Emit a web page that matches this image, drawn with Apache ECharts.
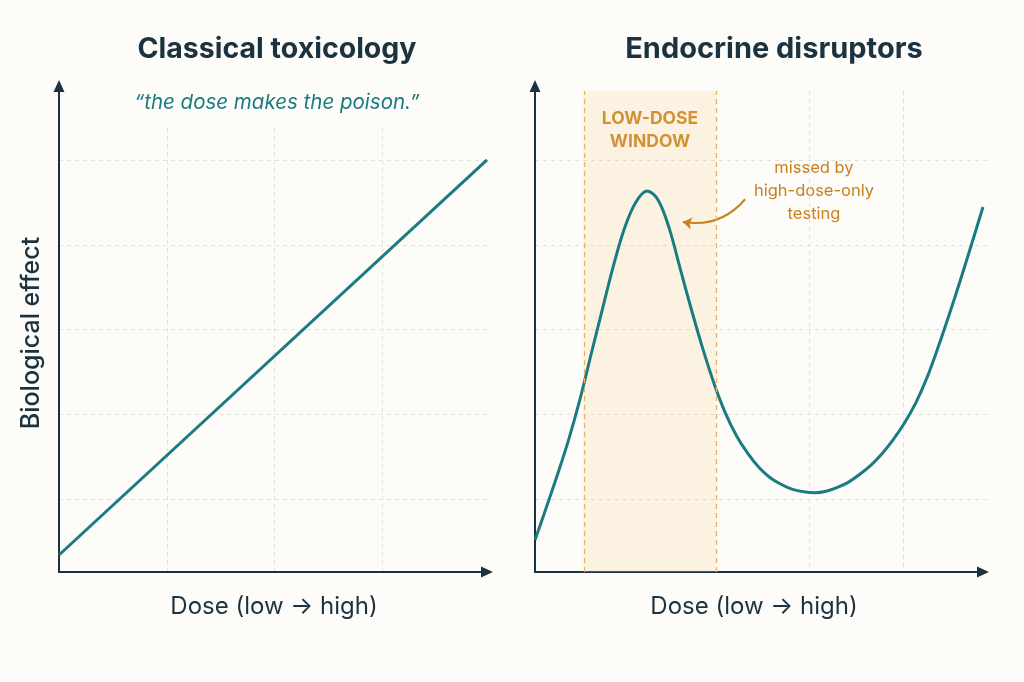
<!DOCTYPE html>
<html>
<head>
<meta charset="utf-8">
<script src="https://cdn.jsdelivr.net/npm/echarts@6/dist/echarts.min.js"></script>
<style>
  html, body { margin: 0; padding: 0; background: #fdfcf9; }
  #chart { width: 1024px; height: 682px; }
</style>
</head>
<body>
<div id="chart"></div>
<script>
// panel titles and labels
var panelTitles = ['Classical toxicology', 'Endocrine disruptors']
var quote = '\u201cthe dose makes the poison.\u201d'
var yName = 'Biological effect'
var xName = 'Dose (low \u2192 high)'
var windowLabel = 'LOW-DOSE\nWINDOW'
var noteLabel = 'missed by\nhigh-dose-only\ntesting'

// left: linear dose-response (dose 0..10, effect 0..10)
var linearDose = [0, 10]
var linearEffect = [0.35, 8.48]

// right: non-monotonic dose-response
var ndDose = [0, 0.25, 0.5, 0.75, 1, 1.25, 1.5, 1.75, 2, 2.25, 2.5, 2.75, 3, 3.25, 3.5, 3.75, 4,
  4.25, 4.5, 4.75, 5, 5.25, 5.5, 5.75, 6, 6.25, 6.5, 6.75, 7, 7.25, 7.5, 7.75, 8,
  8.25, 8.5, 8.75, 9, 9.25, 9.5, 9.75, 10]
var ndEffect = [0.66, 1.32, 2.00, 2.72, 3.54, 4.47, 5.39, 6.30, 7.08, 7.61, 7.84, 7.65, 7.06, 6.21, 5.37, 4.58, 3.87,
  3.27, 2.80, 2.44, 2.15, 1.94, 1.80, 1.70, 1.65, 1.63, 1.66, 1.74, 1.85, 2.01, 2.20, 2.44, 2.73,
  3.07, 3.48, 4.00, 4.63, 5.31, 6.02, 6.76, 7.51]

// low-dose window (dose range) and its top
var windowDose = [1.09, 4.04]
var windowTop = 9.9
// annotation arrow: from [dose, effect] to [dose, effect]
var noteArrow = [[4.69, 7.67], [3.30, 7.20]]

var teal = '#1b7b81'
var ink = '#1b3340'
var orange = '#c7811f'
var gridGrey = '#e0e0dc'
var font = 'Inter, "Noto Sans", sans-serif'

function pairs(xs, ys) {
  return xs.map(function (x, i) { return [x, ys[i]] })
}

function mainAxis(max, idx) {
  return {
    type: 'value', min: 0, max: max, gridIndex: idx,
    axisLine: { show: true, symbol: ['none', 'triangle'], symbolSize: [11, 12], lineStyle: { color: ink, width: 2 } },
    axisTick: { show: false }, axisLabel: { show: false }, splitLine: { show: false }
  }
}
function helperAxis(max, idx, split, showMin, showMax) {
  return {
    type: 'value', min: 0, max: max, interval: 1, gridIndex: idx,
    axisLine: { show: false }, axisTick: { show: false }, axisLabel: { show: false },
    splitLine: {
      show: split, showMinLine: showMin, showMaxLine: showMax,
      lineStyle: { color: gridGrey, type: [4, 4], width: 1 }
    }
  }
}
function label(x, y, text, size, weight, color, extra) {
  var el = {
    type: 'text', x: x, y: y,
    style: {
      text: text, fontSize: size, fontWeight: weight, fontFamily: font, fill: color,
      textAlign: 'center', textVerticalAlign: 'middle'
    }
  }
  if (extra && extra.italic) el.style.fontStyle = 'italic'
  if (extra && extra.lineHeight) el.style.lineHeight = extra.lineHeight
  if (extra && extra.rotation) el.rotation = extra.rotation
  return el
}

var chart = echarts.init(document.getElementById('chart'))

chart.setOption({
  backgroundColor: '#fdfcf9',
  animation: false,
  grid: [
    { left: 59, top: 86, width: 428, height: 486 },   // left data
    { left: 59, top: 128, width: 431, height: 444 },  // left vertical grid
    { left: 59, top: 160, width: 431, height: 339 },  // left horizontal grid
    { left: 535, top: 86, width: 448, height: 486 },  // right data
    { left: 716, top: 91, width: 187, height: 481 },  // right vertical grid
    { left: 535, top: 160, width: 452, height: 339 }  // right horizontal grid
  ],
  xAxis: [
    mainAxis(10, 0),
    helperAxis(4, 1, true, false, false),
    helperAxis(1, 2, false, false, false),
    mainAxis(10, 3),
    helperAxis(2, 4, true, false, true),
    helperAxis(1, 5, false, false, false)
  ],
  yAxis: [
    mainAxis(10, 0),
    helperAxis(1, 1, false, false, false),
    helperAxis(4, 2, true, true, true),
    mainAxis(10, 3),
    helperAxis(1, 4, false, false, false),
    helperAxis(4, 5, true, true, true)
  ],
  series: [
    {
      type: 'line', xAxisIndex: 0, yAxisIndex: 0,
      data: pairs(linearDose, linearEffect),
      showSymbol: false, silent: true,
      lineStyle: { color: teal, width: 3 }
    },
    {
      type: 'line', xAxisIndex: 3, yAxisIndex: 3,
      data: pairs(ndDose, ndEffect),
      smooth: 0.35, showSymbol: false, silent: true,
      lineStyle: { color: teal, width: 3 },
      markArea: {
        silent: true,
        itemStyle: { color: 'rgba(250, 208, 140, 0.21)' },
        data: [[{ coord: [windowDose[0], 0] }, { coord: [windowDose[1], windowTop] }]]
      },
      markLine: {
        silent: true,
        symbol: 'none',
        label: { show: false },
        lineStyle: { color: '#ebb25e', type: [5, 4], width: 1.3 },
        data: [
          [{ coord: [windowDose[0], 0] }, { coord: [windowDose[0], windowTop] }],
          [{ coord: [windowDose[1], 0] }, { coord: [windowDose[1], windowTop] }]
        ]
      }
    },
    {
      // curved annotation arrow
      type: 'lines', coordinateSystem: 'cartesian2d', xAxisIndex: 3, yAxisIndex: 3,
      silent: true,
      symbol: ['none', 'arrow'],
      symbolSize: 9,
      lineStyle: { color: orange, width: 2, opacity: 1, curveness: 0.28 },
      data: [{ coords: noteArrow }]
    }
  ],
  graphic: [
    label(277, 49, panelTitles[0], 28.5, 700, ink),
    label(774, 49, panelTitles[1], 29, 700, ink),
    label(277, 103, quote, 20.5, 400, teal, { italic: true }),
    label(31, 333, yName, 25, 500, ink, { rotation: Math.PI / 2 }),
    label(274, 607, xName, 24, 400, ink),
    label(754, 607, xName, 24, 400, ink),
    label(650, 130, windowLabel, 17.5, 700, orange, { lineHeight: 23 }),
    label(814, 191, noteLabel, 16.5, 400, orange, { lineHeight: 23 })
  ]
})
</script>
</body>
</html>
